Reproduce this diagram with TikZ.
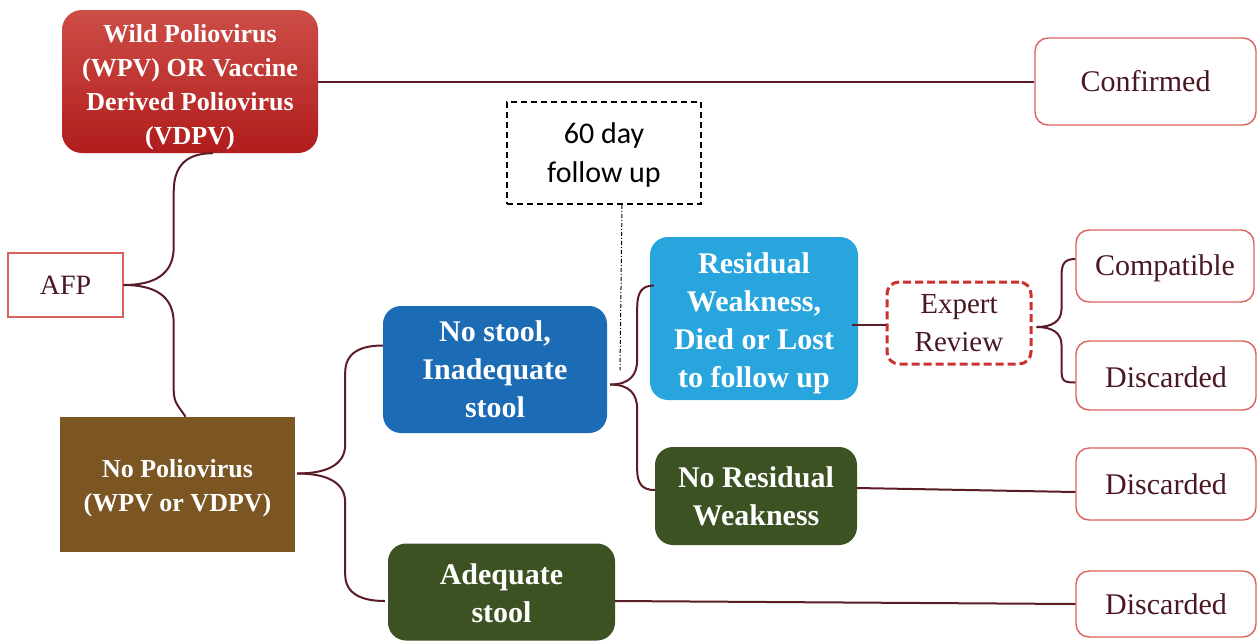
\documentclass[tikz,border=0pt]{standalone}
\usepackage{fontspec}
\setmainfont{Liberation Serif}
\newfontfamily\calib{Carlito}
\usetikzlibrary{calc}
\definecolor{conncol}{HTML}{5A1C26}
\definecolor{wbord}{HTML}{D9615E}
\definecolor{wtext}{HTML}{4A1822}
\definecolor{wpvtop}{HTML}{CD4D47}
\definecolor{wpvbot}{HTML}{B01D1D}
\definecolor{bluedark}{HTML}{1B6BB5}
\definecolor{bluelight}{HTML}{29A5DD}
\definecolor{greendark}{HTML}{3C5223}
\definecolor{brownbox}{HTML}{7B5522}
\definecolor{expred}{HTML}{C9322E}
\newcommand\tpush[1]{\rule{0pt}{#1}}
\tikzset{
  conn/.style={draw=conncol, line width=2pt},
  whitebox/.style={draw=wbord, line width=1.4pt, fill=white, rounded corners=13pt,
    text=wtext, font=\fontsize{30}{36}\selectfont, align=center, inner sep=0pt},
  colbox/.style={rounded corners=18pt, text=white, align=center, inner sep=0pt,
    font=\fontsize{30}{38}\selectfont\bfseries},
}
\begin{document}
\begin{tikzpicture}[x=1pt,y=-1pt]
\useasboundingbox (0,0) rectangle (1258,641);
% nodes
\node[colbox, rounded corners=20pt, top color=wpvtop, bottom color=wpvbot,
  minimum width=256pt, minimum height=143pt, font=\fontsize{26}{34}\selectfont\bfseries]
  (wpv) at (190,81.5) {\tpush{29pt}Wild Poliovirus\\(WPV) OR Vaccine\\Derived Poliovirus\\(VDPV)};
\node[whitebox, minimum width=221pt, minimum height=87pt] (confirmed) at (1145.5,81.5) {Confirmed};
\node[draw=black, line width=1.6pt, dash pattern=on 6pt off 4pt, fill=white,
  minimum width=194pt, minimum height=102pt, align=center, inner sep=0pt,
  font=\calib\fontsize{30}{39}\selectfont] (follow) at (604,153) {\tpush{25pt}60 day\\follow up};
\node[draw=wbord, line width=1.4pt, fill=white, text=wtext, minimum width=115pt,
  minimum height=64pt, inner sep=0pt, font=\fontsize{28}{34}\selectfont] (afp) at (65.5,285) {AFP};
\node[colbox, rounded corners=0pt, fill=brownbox, minimum width=235pt, minimum height=135pt,
  font=\fontsize{26}{34}\selectfont\bfseries] (nopolio) at (177.5,484.5) {\tpush{26pt}No Poliovirus\\(WPV or VDPV)};
\node[colbox, fill=bluedark, minimum width=224pt, minimum height=127pt] (nostool) at (495,369.5)
  {No stool,\\Inadequate\\stool};
\node[colbox, fill=bluelight, minimum width=208pt, minimum height=163pt] (residual) at (754,318.5)
  {\tpush{31pt}Residual\\Weakness,\\Died or Lost\\to follow up};
\node[draw=expred, line width=3pt, dash pattern=on 8pt off 4pt, rounded corners=12pt, fill=white,
  text=wtext, minimum width=144pt, minimum height=82pt, align=center, inner sep=0pt,
  font=\fontsize{29}{38}\selectfont] (expert) at (959,323) {Expert\\Review};
\node[whitebox, minimum width=178pt, minimum height=72pt] (compat) at (1165,266) {\tpush{25pt}Compatible};
\node[whitebox, minimum width=180pt, minimum height=69pt] (disc1) at (1166,375.5) {\tpush{24pt}Discarded};
\node[colbox, fill=greendark, minimum width=202pt, minimum height=98pt] (noresid) at (756,496)
  {No Residual\\Weakness};
\node[whitebox, minimum width=180pt, minimum height=72pt] (disc2) at (1166,484) {Discarded};
\node[colbox, fill=greendark, minimum width=227pt, minimum height=97pt] (adequate) at (501.5,592)
  {\tpush{24pt}Adequate\\stool};
\node[whitebox, minimum width=180pt, minimum height=66pt] (disc3) at (1166,604) {Discarded};
\coordinate (dotend) at (620,370);
% connectors
\draw[conn] (wpv.east) -- (confirmed.west);
% AFP brace
\draw[conn] (afp.east) .. controls +(30,0) and +(0,28) .. ($(afp.east)+(50,-38)$)
  -- ($(afp.east)+(50,-93)$) .. controls +(0,-28) and +(-25,0) .. ($(wpv.south)+(23,0)$);
\draw[conn] (afp.east) .. controls +(30,0) and +(0,-28) .. ($(afp.east)+(50,38)$)
  -- ($(afp.east)+(50,105)$) .. controls +(0,14) and +(-6,-10) .. ($(nopolio.north)+(8,0)$);
% No polio brace
\draw[conn] ($(nopolio.east)+(2,-11)$) .. controls +(30,0) and +(0,20) .. ($(nopolio.east)+(50,-40)$)
  -- ($(nopolio.east)+(50,-112)$) .. controls +(0,-20) and +(-22,0) .. ($(nostool.west)+(0,-24)$);
\draw[conn] ($(nopolio.east)+(2,-11)$) .. controls +(30,0) and +(0,-20) .. ($(nopolio.east)+(50,18)$)
  -- ($(nopolio.east)+(50,90)$) .. controls +(0,20) and +(-22,0) .. ($(adequate.west)+(-3,9)$);
% No stool brace
\draw[conn] ($(nostool.east)+(3,15)$) .. controls +(20,0) and +(0,15) .. ($(nostool.east)+(30,-10)$)
  -- ($(nostool.east)+(30,-62)$) .. controls +(0,-15) and +(-12,0) .. ($(residual.west)+(4,-33)$);
\draw[conn] ($(nostool.east)+(3,15)$) .. controls +(20,0) and +(0,-15) .. ($(nostool.east)+(30,40)$)
  -- ($(nostool.east)+(30,100)$) .. controls +(0,15) and +(-12,0) .. ($(noresid.west)+(0,-6)$);
% residual to expert
\draw[conn] ($(expert.west -| residual.east)+(-6,2)$) -- ($(expert.west)+(0,2)$);
% expert brace
\draw[conn] ($(expert.east)+(4,4)$) .. controls +(16,0) and +(0,12) .. ($(expert.east)+(29,-14)$)
  -- ($(expert.east)+(29,-46)$) .. controls +(0,-12) and +(-12,0) .. ($(compat.west)+(0,-7)$);
\draw[conn] ($(expert.east)+(4,4)$) .. controls +(16,0) and +(0,-12) .. ($(expert.east)+(29,22)$)
  -- ($(expert.east)+(29,46)$) .. controls +(0,12) and +(-12,0) .. ($(disc1.west)+(0,7)$);
% straight lines
\draw[conn] ($(noresid.east)+(0,-8)$) -- ($(disc2.west)+(0,8)$);
\draw[conn] ($(adequate.east)+(0,9)$) -- (disc3.west);
% dash-dot
\draw[black, line width=1pt, dash pattern=on 4pt off 2pt on 1pt off 2pt] ($(follow.south)+(18,0)$) -- (dotend);
\end{tikzpicture}
\end{document}
